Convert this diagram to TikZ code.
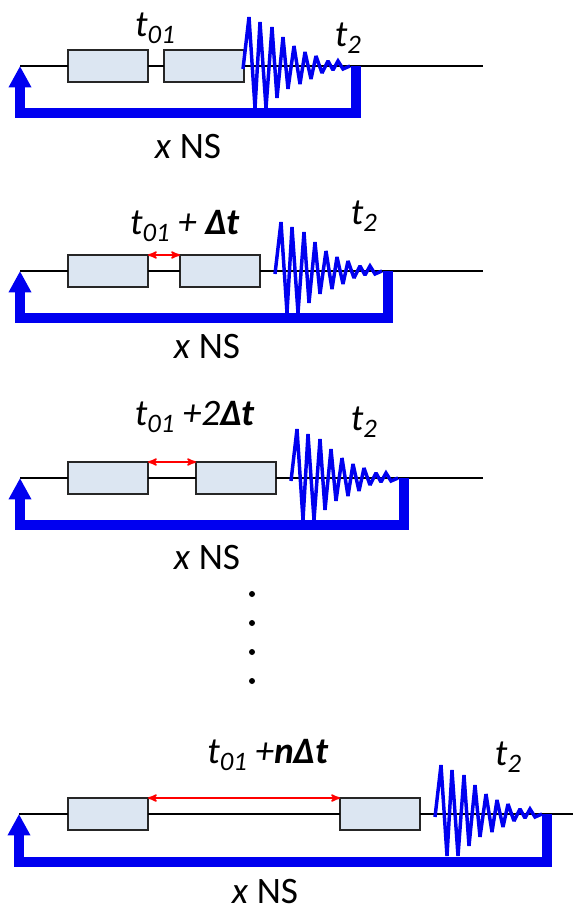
\documentclass[tikz,border=0pt]{standalone}
\usepackage{fontspec}
\setmainfont{Carlito}
\usetikzlibrary{arrows,arrows.meta}
\definecolor{boxfill}{RGB}{220,230,242}
\definecolor{sigblue}{RGB}{0,0,240}
\newcommand{\tsub}[1]{\textit{t\raisebox{-.4ex}{\fontsize{20}{22}\selectfont #1}}}
\newcommand{\dt}{\textbf{\textit{Δt}}}
\newcommand{\fid}[1]{\draw[sigwave,shift={(#1)}] (0,3) -- (6,-49) -- (12,42) -- (17,-44) -- (23,42) -- (29,-39) -- (34,32) -- (40,-29) -- (45,23) -- (51,-20) -- (57,18) -- (62,-14) -- (68,13) -- (73,-10) -- (79,7) -- (85,-5) -- (90,4) -- (95,-5) -- (100,3) -- (107,0);}
\tikzset{
  pulsebox/.style={draw=black!85,fill=boxfill,line width=1.5pt,minimum width=60pt,minimum height=24pt,inner sep=0pt,outer sep=0pt},
  wire/.style={line width=1.6pt,black},
  sigwave/.style={line width=2.6pt,sigblue,miter limit=2},
  feedback/.style={line width=7.5pt,sigblue,-{Triangle[length=16pt,width=16pt]}},
  delay/.style={<->,>=stealth',line width=1.3pt,red},
  lbl/.style={font=\fontsize{28}{32}\selectfont,inner sep=0pt},
  vdot/.style={circle,fill=black,minimum size=4.5pt,inner sep=0pt}
}
\begin{document}
\begin{tikzpicture}[x=0.75pt,y=-0.75pt]
      \useasboundingbox (0,0) rectangle (573,910);

      % first row
      \coordinate (s1) at (20,66);
      \coordinate (e1) at (483,66);
      \coordinate (f1) at (243,66);
      \coordinate (r1) at (356,66);
      \node[pulsebox] (a1) at (108,66) {};
      \node[pulsebox] (b1) at (204,66) {};
      \draw[wire] (s1) -- (a1) (a1) -- (b1) (b1) -- (e1);
      \fid{f1}
      \draw[feedback] (r1) -- ++(0,47) -| (s1);
      \node[lbl] (l1) at (155,28) {\tsub{01}};
      \node[lbl] (m1) at (348,38) {\tsub{2}};
      \node[lbl] (n1) at (188,147) {\textit{x} NS};

      % second row
      \coordinate (s2) at (20,271);
      \coordinate (e2) at (483,271);
      \coordinate (f2) at (275,271);
      \coordinate (r2) at (388,271);
      \node[pulsebox] (a2) at (108,271) {};
      \node[pulsebox] (b2) at (220,271) {};
      \draw[wire] (s2) -- (a2) (a2) -- (b2) (b2) -- (e2);
      \fid{f2}
      \draw[feedback] (r2) -- ++(0,47) -| (s2);
      \draw[delay] (a2.north east) -- (b2.north west);
      \node[lbl] (l2) at (185,226) {\tsub{01} \textit{+} \dt};
      \node[lbl] (m2) at (364,216) {\tsub{2}};
      \node[lbl] (n2) at (207,347) {\textit{x} NS};

      % third row
      \coordinate (s3) at (20,478);
      \coordinate (e3) at (483,478);
      \coordinate (f3) at (291,478);
      \coordinate (r3) at (404,478);
      \node[pulsebox] (a3) at (108,478) {};
      \node[pulsebox] (b3) at (236,478) {};
      \draw[wire] (s3) -- (a3) (a3) -- (b3) (b3) -- (e3);
      \fid{f3}
      \draw[feedback] (r3) -- ++(0,47) -| (s3);
      \draw[delay] (a3.north east) -- (b3.north west);
      \node[lbl] (l3) at (195,417) {\tsub{01} \textit{+2}\dt};
      \node[lbl] (m3) at (364,422) {\tsub{2}};
      \node[lbl] (n3) at (207,558) {\textit{x} NS};

      % dots
      \node[vdot] (d1) at (252,594) {};
      \node[vdot] (d2) at (252,623) {};
      \node[vdot] (d3) at (252,652) {};
      \node[vdot] (d4) at (252,681) {};

      % last row
      \coordinate (s4) at (19,814);
      \coordinate (e4) at (573,814);
      \coordinate (f4) at (435,814);
      \coordinate (r4) at (547,814);
      \node[pulsebox] (a4) at (108,814) {};
      \node[pulsebox] (b4) at (380,814) {};
      \draw[wire] (s4) -- (a4) (a4) -- (b4) (b4) -- (e4);
      \fid{f4}
      \draw[feedback] (r4) -- ++(0,48) -| (s4);
      \draw[delay] (a4.north east) -- (b4.north west);
      \node[lbl] (l4) at (268,755) {\tsub{01} \textit{+}\textbf{\textit{n}}\dt};
      \node[lbl] (m4) at (508,757) {\tsub{2}};
      \node[lbl] (n4) at (265,892) {\textit{x} NS};
    \end{tikzpicture}
\end{document}
